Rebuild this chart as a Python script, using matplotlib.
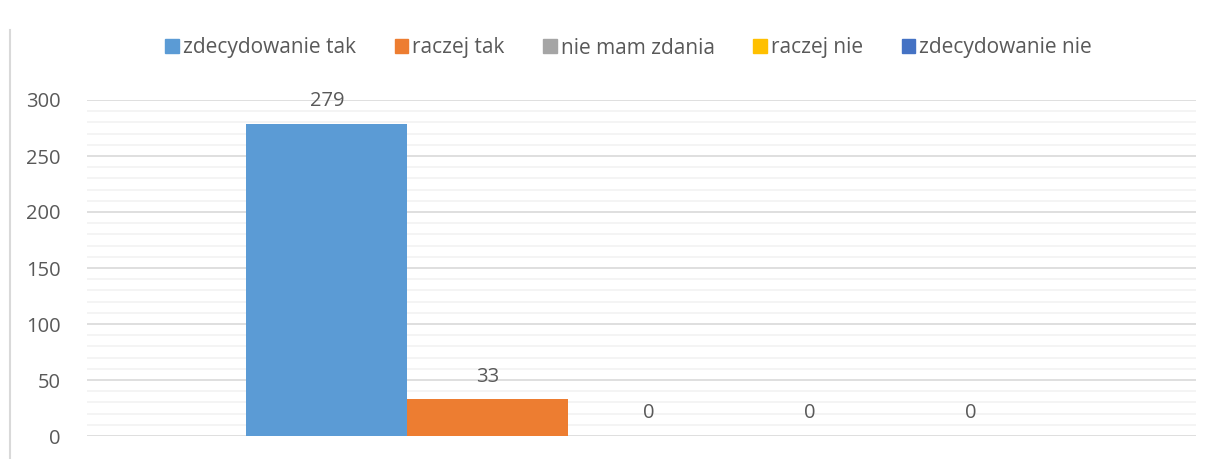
import numpy as np
import matplotlib.pyplot as plt
from matplotlib.lines import Line2D
from matplotlib.ticker import MultipleLocator

series = ["zdecydowanie tak", "raczej tak", "nie mam zdania", "raczej nie", "zdecydowanie nie"]
values = [279, 33, 0, 0, 0]
colors = ["#5B9BD5", "#ED7D31", "#A5A5A5", "#FFC000", "#4472C4"]

plt.rcParams['font.family'] = ['Open Sans', 'DejaVu Sans']
text_col = "#595959"

fig = plt.figure(figsize=(12.28, 4.59), dpi=100)
ax = fig.add_axes([87 / 1228, 1 - 436 / 459, (1196 - 87) / 1228, (436 - 100) / 459])

pos = np.arange(len(values))
bars = ax.bar(pos, values, width=1.0, color=colors, zorder=3)
for x, v in zip(pos, values):
    ax.annotate(str(v), (x, v), xytext=(0, 9), textcoords="offset points",
                ha="center", va="bottom", fontsize=14.5, color=text_col)

ax.set_xlim(-1.49, 5.40)
ax.set_ylim(0, 300)
ax.yaxis.set_major_locator(MultipleLocator(50))
ax.yaxis.set_minor_locator(MultipleLocator(10))
ax.grid(axis="y", which="major", color="#D9D9D9", linewidth=1.2, zorder=0)
ax.grid(axis="y", which="minor", color="#F2F2F2", linewidth=1.2, zorder=0)
ax.set_xticks([])
ax.tick_params(axis="y", which="both", length=0, labelsize=14.5, labelcolor=text_col, pad=19)
for s in ax.spines.values():
    s.set_visible(False)

# chart border on the left
fig.add_artist(Line2D([10 / 1228, 10 / 1228], [0, 1 - 30 / 459], color="#D9D9D9", linewidth=1.5))

handles = [plt.Rectangle((0, 0), 1, 1, color=c) for c in colors]
fig.legend(handles, series, loc="center", bbox_to_anchor=(0.512, 1 - 48 / 459), ncol=5,
           frameon=False, fontsize=15, labelcolor=text_col, handlelength=0.65, handleheight=0.65,
           handletextpad=0.2, columnspacing=1.85)

fig.savefig("out.png", dpi=100)
